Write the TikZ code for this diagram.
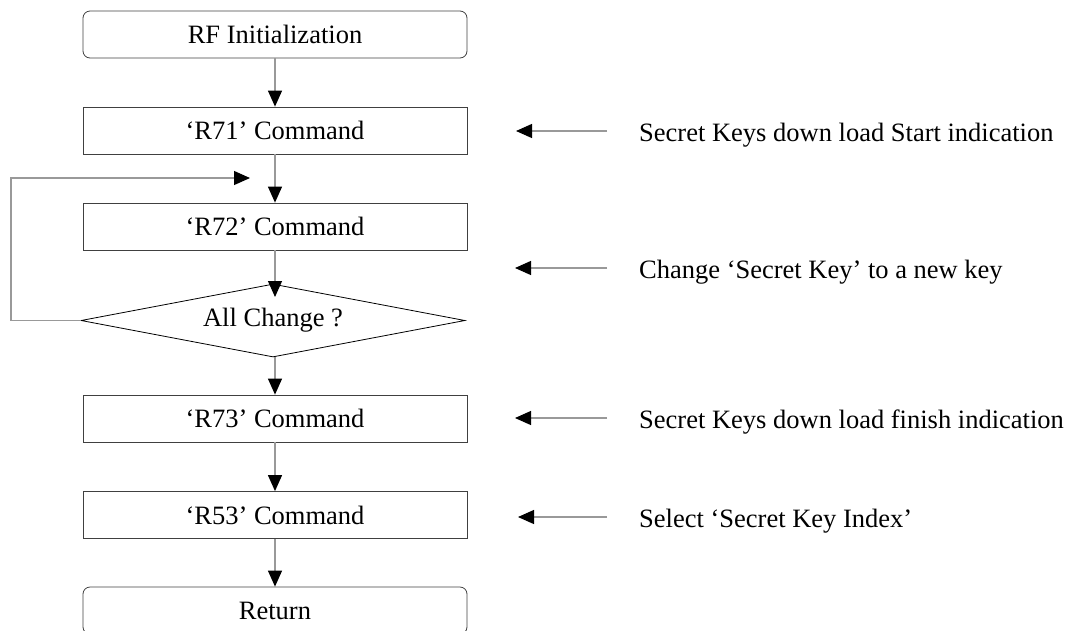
\documentclass[tikz,border=0pt]{standalone}
\usepackage{fontspec}
\setmainfont{Liberation Serif}
\usetikzlibrary{arrows.meta,shapes.geometric}
\begin{document}
\begin{tikzpicture}[x=1pt,y=-1pt,
  txt/.style={font=\fontsize{26.5}{30}\selectfont},
  box/.style={txt, draw=black!75, line width=0.8pt, minimum width=384pt, minimum height=47pt, inner sep=0pt},
  term/.style={box, rounded corners=7pt},
  dec/.style={txt, diamond, aspect=5, draw=black, line width=0.8pt, minimum width=384pt, minimum height=73pt, inner sep=0pt},
  conn/.style={draw=black!40, line width=1.2pt, -{Triangle[length=16pt,width=14pt,black]}},
  lab/.style={txt, anchor=base west, inner sep=0pt}]
\useasboundingbox (0,0) rectangle (1068,630);
\clip (0,0) rectangle (1068,630);
\node[term] (init) at (275,34.5) {RF Initialization};
\node[box] (r71) at (275,130.5) {‘R71’ Command};
\node[box] (r72) at (275,226.5) {‘R72’ Command};
\node[dec] (chk) at (273,320.5) {All Change ?};
\node[box] (r73) at (275,418.5) {‘R73’ Command};
\node[box] (r53) at (275,515) {‘R53’ Command};
\node[term] (ret) at (275,610.5) {Return};
\coordinate (dtip) at (275,297);
\coordinate (ctop) at (275,357);
\coordinate (lc) at (11,178);
\coordinate (lp) at (250,178);
\draw[conn] (init) -- (r71);
\draw[conn] (r71) -- (r72);
\draw[conn] (r72) -- (dtip);
\draw[conn] (ctop) -- (r73);
\draw[conn] (r73) -- (r53);
\draw[conn] (r53) -- (ret);
\draw[conn] (chk.west) -| (lc) -- (lp);
% side notes
\coordinate (t1) at (607,131); \coordinate (h1) at (516,131);
\coordinate (t2) at (607,268); \coordinate (h2) at (515,268);
\coordinate (t3) at (607,418); \coordinate (h3) at (515,418);
\coordinate (t4) at (607,517); \coordinate (h4) at (518,517);
\draw[conn] (t1) -- (h1);
\draw[conn] (t2) -- (h2);
\draw[conn] (t3) -- (h3);
\draw[conn] (t4) -- (h4);
\node[lab] (l1) at (639,141) {Secret Keys down load Start indication};
\node[lab] (l2) at (639,278) {Change ‘Secret Key’ to a new key};
\node[lab] (l3) at (639,428) {Secret Keys down load finish indication};
\node[lab] (l4) at (639,527) {Select ‘Secret Key Index’};
\end{tikzpicture}
\end{document}
